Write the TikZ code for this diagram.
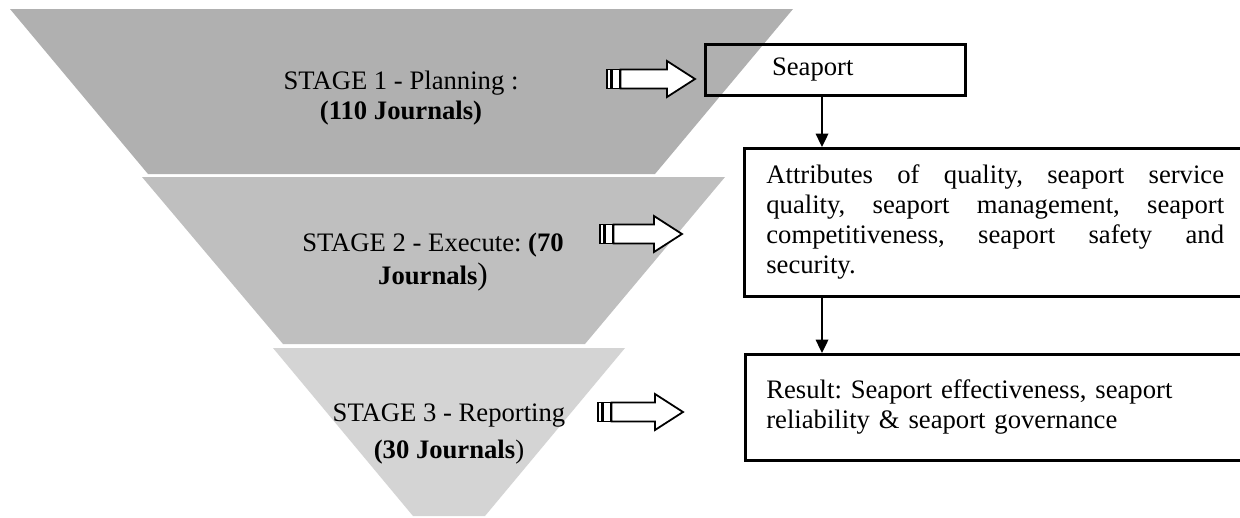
\documentclass[tikz,border=0pt]{standalone}
\usepackage{fontspec}
\setmainfont{Liberation Serif}
\usetikzlibrary{positioning,arrows.meta,calc}
\frenchspacing

\definecolor{stageone}{gray}{0.69}
\definecolor{stagetwo}{gray}{0.75}
\definecolor{stagethree}{gray}{0.83}

\tikzset{
  stagetext/.style={align=center,font=\fontsize{12}{13.5}\selectfont},
  infobox/.style={draw,line width=1.2pt,anchor=north west,inner ysep=0pt,
    font=\fontsize{12}{13.5}\selectfont},
  downarrow/.style={line width=0.9pt,-{Triangle[width=5.6pt,length=6pt]}},
  hollow/.style={draw,fill=white,line width=0.8pt},
}

\begin{document}
\begin{tikzpicture}[x=0.45pt,y=-0.45pt]
    \useasboundingbox (0,0) rectangle (1240,517);

    % Trichter
    \fill[stageone]   (10,9)   -- (793,9)   -- (655,174) -- (148,174) -- cycle;
    \fill[stagetwo]   (142,177) -- (725,177) -- (585,344) -- (283,344) -- cycle;
    \fill[stagethree] (273,348) -- (625,348) -- (485,516) -- (413,516) -- cycle;

    \node[stagetext] (stage1) at (401,98)
      {STAGE 1 - Planning :\\\textbf{(110 Journals)}};
    \node[stagetext] (stage2) at (433,262)
      {STAGE 2 - Execute: \textbf{(70}\\[1pt]\textbf{Journals}{\fontsize{14}{14}\selectfont)}};
    \node[stagetext] (stage3) at (449,434)
      {STAGE 3 - Reporting\\[3.5pt]\textbf{(30 Journals})};

    % Kaesten
    \node[infobox,inner xsep=30pt,text width=57pt,align=left,
          minimum height=22.95pt] (seaport) at (704,43) {Seaport};
    \node[infobox,inner xsep=9.9pt,text width=206pt,align=justify,
          minimum height=66.6pt,
          execute at begin node={\tolerance=9999\hyphenpenalty=10000}] (attr) at (743,147)
      {Attributes of quality, seaport service quality, seaport management, seaport competitiveness, seaport safety and security.};
    \node[infobox,inner xsep=9.45pt,text width=206pt,align=left,
          minimum height=47.7pt] (result) at (744,353)
      {Result: Seaport effectiveness, seaport\\reliability \& seaport governance};

    % Verbindungen
    \coordinate (link) at (822,0);
    \draw[downarrow] (seaport.south -| link) -- (attr.north -| link);
    \draw[downarrow] (attr.south -| link) -- (result.north -| link);

    % Blockpfeile
    \foreach \tx/\ty/\hx in {607/79/695, 600/234/682, 598/412/683} {
      \pgfmathsetmacro{\hb}{\hx-28}
      \draw[hollow] (\tx,\ty-9.5) rectangle (\tx+4,\ty+9.5);
      \draw[hollow] (\tx+5,\ty-9.5) rectangle (\tx+12.5,\ty+9.5);
      \draw[hollow] (\tx+13.5,\ty-9.5) -- (\hb,\ty-9.5) -- (\hb,\ty-18)
        -- (\hx,\ty) -- (\hb,\ty+18) -- (\hb,\ty+9.5) -- (\tx+13.5,\ty+9.5) -- cycle;
    }

  \end{tikzpicture}
\end{document}
